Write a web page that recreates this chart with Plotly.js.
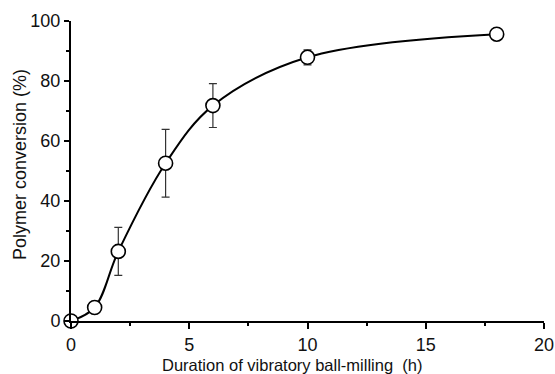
<!DOCTYPE html>
<html>
<head>
<meta charset="utf-8">
<script src="https://cdn.plot.ly/plotly-3.0.1.min.js"></script>
<style>html,body{margin:0;padding:0;background:#fff;}#chart{width:555px;height:374px;}</style>
</head>
<body>
<div id="chart"></div>
<script>
const hours = [0, 1, 2, 4, 6, 10, 18];
const conversion = [0, 4.5, 23.2, 52.6, 71.8, 87.9, 95.6];
const errorValues = [0, 0, 8.0, 11.3, 7.3, 2.5, 0];
const xTickVals = [0, 5, 10, 15, 20];
const yTickVals = [0, 20, 40, 60, 80, 100];
const xTitle = 'Duration of vibratory ball-milling  (h)';
const yTitle = 'Polymer conversion (%)';

const trace = {
  x: hours,
  y: conversion,
  type: 'scatter',
  mode: 'lines+markers',
  line: {shape: 'spline', smoothing: 1, color: '#000', width: 2},
  marker: {symbol: 'circle', size: 14, color: '#fff', line: {color: '#000', width: 1.6}},
  error_y: {type: 'data', array: errorValues, visible: true, color: '#333', thickness: 1.2, width: 4},
  cliponaxis: false
};

const fam = 'Liberation Sans, Arial, sans-serif';

const layout = {
  width: 555, height: 374,
  margin: {l: 71, r: 11, t: 21, b: 53},
  paper_bgcolor: '#fff', plot_bgcolor: '#fff',
  showlegend: false,
  font: {family: fam, color: '#111'},
  xaxis: {
    range: [0, 20], tickvals: xTickVals, ticktext: xTickVals.map(String),
    showgrid: false, zeroline: false, showline: true, linecolor: '#000', linewidth: 2,
    ticks: 'outside', ticklen: 6, tickwidth: 2, tickcolor: '#000',
    minor: {dtick: 2.5, ticks: 'outside', ticklen: 3, tickwidth: 2, tickcolor: '#000', showgrid: false},
    tickfont: {size: 18, family: fam, color: '#111'}
  },
  yaxis: {
    range: [0, 100], tickvals: yTickVals, ticktext: yTickVals.map(String),
    showgrid: false, zeroline: false, showline: true, linecolor: '#000', linewidth: 2,
    ticks: 'outside', ticklen: 5, tickwidth: 2, tickcolor: '#000',
    minor: {dtick: 10, ticks: 'outside', ticklen: 3, tickwidth: 2, tickcolor: '#000', showgrid: false},
    tickfont: {size: 18, family: fam, color: '#111'}
  },
  annotations: [
    {text: xTitle, xref: 'paper', yref: 'paper', x: 0.467, y: 0, yshift: -44,
     xanchor: 'center', yanchor: 'middle', showarrow: false,
     font: {size: 16.5, family: fam, color: '#111'}},
    {text: yTitle, xref: 'paper', yref: 'paper', x: 0, xshift: -51, y: 0.52,
     xanchor: 'center', yanchor: 'middle', textangle: -90, showarrow: false,
     font: {size: 18, family: fam, color: '#111'}}
  ]
};

Plotly.newPlot('chart', [trace], layout, {displayModeBar: false, staticPlot: true});
</script>
</body>
</html>
